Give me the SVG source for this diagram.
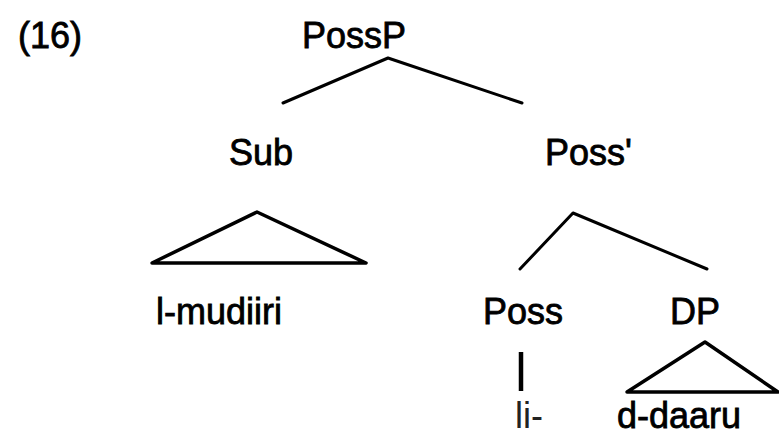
<svg xmlns="http://www.w3.org/2000/svg" width="779" height="436" viewBox="0 0 779 436">
  <style>
    text { font-family: "Liberation Sans", Arial, sans-serif; font-size: 36px; fill: #000; stroke: #000; stroke-width: 0.8; }
    text.light { stroke: none; fill: #222; }
    .edge { stroke: #000; stroke-width: 3; stroke-linecap: round; stroke-linejoin: round; fill: none; }
    .tri { stroke: #000; stroke-width: 3.5; stroke-linejoin: round; fill: none; }
    .stem { stroke: #000; stroke-width: 4.5; fill: none; }
  </style>
  <rect width="779" height="436" fill="#fff"/>

  <text id="label" x="18" y="48">(16)</text>

  <g id="connectors">
    <!-- PossP branches -->
    <polyline class="edge" points="283,103 388,58 522,103"/>
    <!-- Poss' branches -->
    <polyline class="edge" points="520,269 573,213 707,269"/>
    <!-- Sub roof -->
    <polygon class="tri" points="257,212 366,263 152,263"/>
    <!-- DP roof -->
    <polygon class="tri" points="705,342 778,392 627,392"/>
    <!-- Poss head to li- -->
    <line class="stem" x1="521" y1="352" x2="521" y2="391"/>
  </g>

  <g id="node-possp"><text x="302" y="48">PossP</text></g>
  <g id="node-sub"><text x="229" y="165">Sub</text></g>
  <g id="node-possbar"><text x="545" y="165">Poss'</text></g>
  <g id="node-lmudiiri"><text x="156" y="324">l-mudiiri</text></g>
  <g id="node-poss"><text x="483" y="324">Poss</text></g>
  <g id="node-dp"><text x="670" y="324">DP</text></g>
  <g id="node-li"><text class="light" x="515" y="428">li-</text></g>
  <g id="node-ddaaru"><text x="617" y="428">d-daaru</text></g>
</svg>
